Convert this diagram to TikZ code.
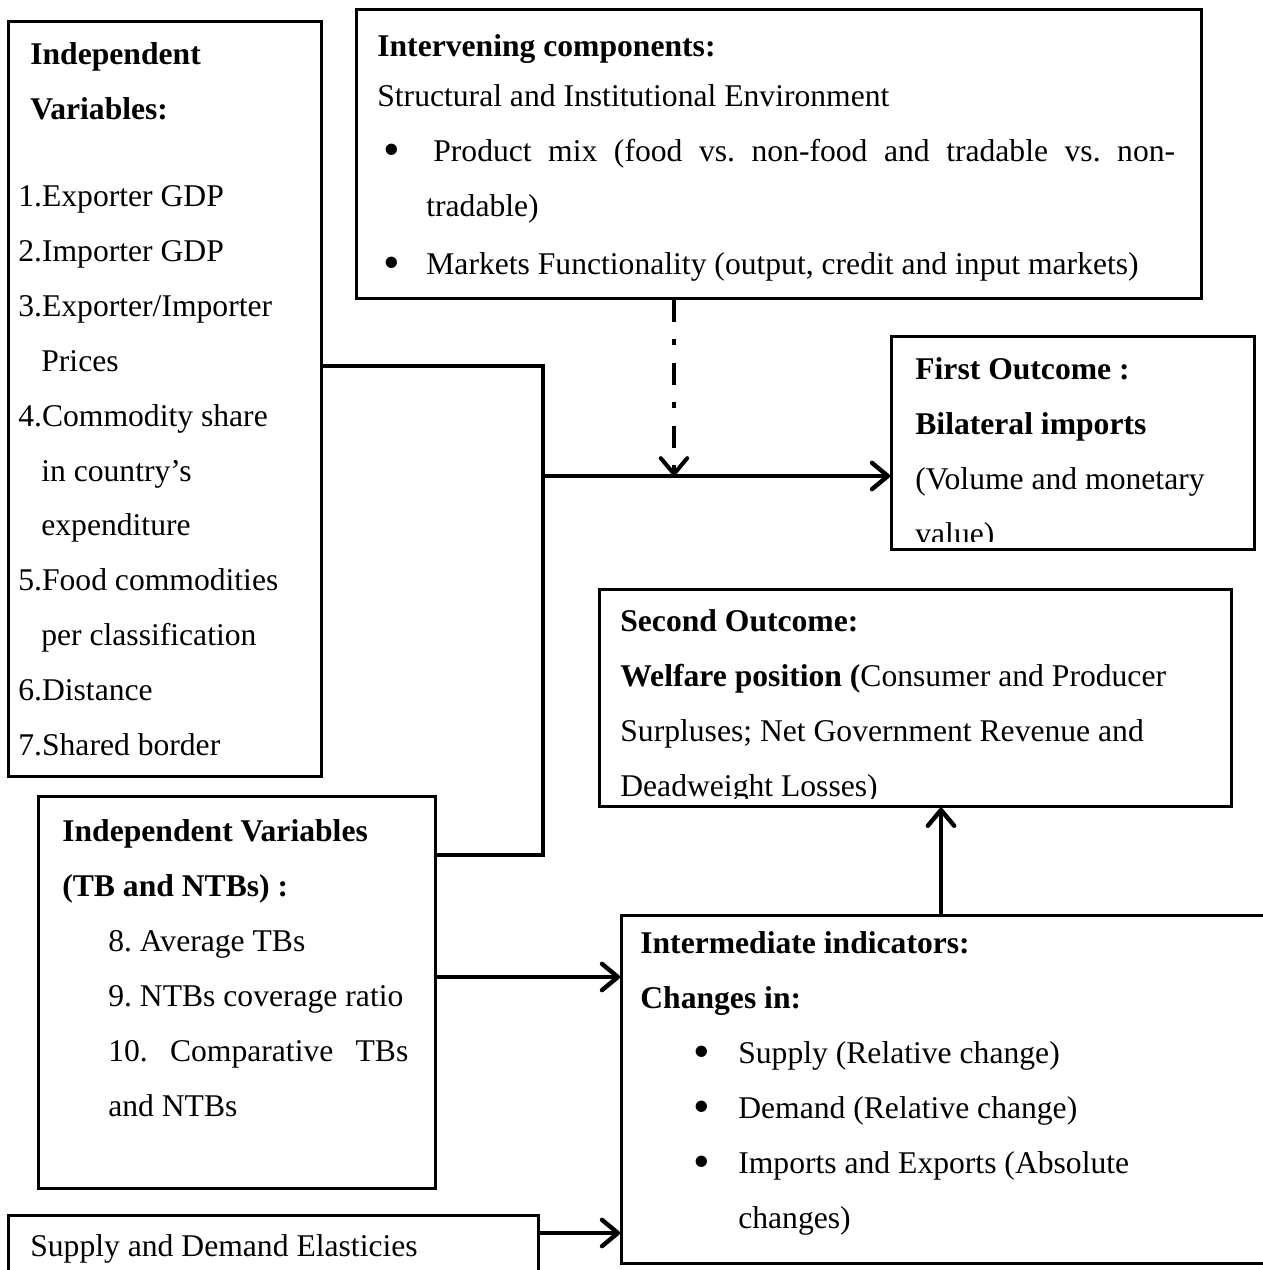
\documentclass[tikz,border=0pt]{standalone}
\usepackage{fontspec}
\usepackage{graphicx}
\setmainfont{Liberation Serif}
\usetikzlibrary{arrows.meta, positioning}
\newcommand{\bigdot}{\raisebox{-0.12em}{\scalebox{1.5}{\textbullet}}}
\frenchspacing

\begin{document}
\begin{tikzpicture}[
    x=0.02cm, y=-0.02cm,
    every node/.style={font=\fontsize{18}{31.3}\selectfont},
    box/.style={rectangle, draw, line width=1.6pt, anchor=north west, inner sep=0pt},
    txt/.style={anchor=north west, inner sep=0pt, align=left},
    link/.style={line width=2.5pt},
    arr/.style={-{Straight Barb[length=9pt, width=15pt, round]}},
    dotarr/.style={line width=2.3pt, dash pattern=on 12.5pt off 10pt on 3.4pt off 10pt,
      -{Straight Barb[length=9pt, width=15pt, round]}}
  ]
    \useasboundingbox (0,0) rectangle (1263,1270);

    % Boxes
    \node[box, minimum width=6.26cm, minimum height=15.1cm]  (indep)    at (7,20)     {};
    \node[box, minimum width=16.9cm, minimum height=5.78cm]  (interv)   at (355,8)    {};
    \node[box, minimum width=7.26cm, minimum height=4.26cm]  (first)    at (890,335)  {};
    \node[box, minimum width=12.64cm, minimum height=4.34cm] (second)   at (598,588)  {};
    \node[box, minimum width=7.94cm, minimum height=7.84cm]  (barriers) at (37,795)   {};
    \node[box, minimum width=13.4cm, minimum height=6.96cm]  (interm)   at (620,914)  {};
    \node[box, minimum width=10.6cm, minimum height=1.72cm]  (elast)    at (7,1214)   {};

    % Texts
    \node[txt] (indepTxt) at (18,25.4) {%
      \strut\hspace*{0.24cm}\textbf{Independent}\\
      \hspace*{0.24cm}\textbf{Variables:}\\[18.1pt]
      1.Exporter GDP\\
      2.Importer GDP\\
      3.Exporter/Importer\\
      \hspace*{0.46cm}Prices\\
      4.Commodity share\\
      \hspace*{0.46cm}in country's\\
      \hspace*{0.46cm}expenditure\\
      5.Food commodities\\
      \hspace*{0.46cm}per classification\\
      6.Distance\\
      7.Shared border};

    \node[txt] (intervTxt) at (377,17.4) {%
      \strut\textbf{Intervening components:}\\[-2.8pt]
      Structural and Institutional Environment\\
      \hspace*{0.12cm}\makebox[1.0cm][l]{\bigdot}\makebox[14.84cm][s]{Product mix (food vs. non-food and tradable vs. non-}\\
      \hspace*{0.98cm}tradable)\\[1.7pt]
      \hspace*{0.12cm}\makebox[0.86cm][l]{\bigdot}Markets Functionality (output, credit and input markets)};

    \begin{scope}
      \clip (first.north west) rectangle ([yshift=5pt]first.south east);
      \node[txt] (firstTxt) at (915,340.4) {%
        \strut\textbf{First Outcome :}\\
        \textbf{Bilateral imports}\\
        (Volume and monetary\\
        value)};
    \end{scope}

    \begin{scope}
      \clip (second.north west) rectangle ([yshift=5pt]second.south east);
      \node[txt] (secondTxt) at (620,592.4) {%
        \strut\textbf{Second Outcome:}\\
        \textbf{Welfare position (}Consumer and Producer\\
        Surpluses; Net Government Revenue and\\
        Deadweight Losses)};
    \end{scope}

    \node[txt] (barriersTxt) at (62,802.4) {%
      \strut\textbf{Independent Variables}\\
      \textbf{(TB and NTBs) :}\\
      \hspace*{0.92cm}8. Average TBs\\
      \hspace*{0.92cm}9. NTBs coverage ratio\\
      \hspace*{0.92cm}\makebox[6cm][s]{10. Comparative TBs}\\
      \hspace*{0.92cm}and NTBs};

    \node[txt] (intermTxt) at (640,914.4) {%
      \strut\textbf{Intermediate indicators:}\\
      \textbf{Changes in:}\\
      \hspace*{1.06cm}\makebox[0.9cm][l]{\bigdot}Supply (Relative change)\\
      \hspace*{1.06cm}\makebox[0.9cm][l]{\bigdot}Demand (Relative change)\\
      \hspace*{1.06cm}\makebox[0.9cm][l]{\bigdot}Imports and Exports (Absolute\\
      \hspace*{1.96cm}changes)};

    \node[txt] (elastTxt) at (30,1217.4) {\strut Supply and Demand Elasticies};

    % Connectors
    \coordinate (jTop)  at (543,366);
    \coordinate (jMid)  at (543,476);
    \coordinate (jLow)  at (543,855);
    \coordinate (jDrop) at (674,476);

    \draw[link] (indep.east |- jTop) -- (jTop) -- (jLow) -- (barriers.east |- jLow);
    \draw[link, arr] (jMid) -- (first.west |- jMid);
    \draw[dotarr] (interv.south -| jDrop) -- (jDrop);
    \draw[link, arr] (barriers.east |- 0,977) -- (interm.west |- 0,977);
    \draw[link, arr] (elast.east |- 0,1233) -- (interm.west |- 0,1233);
    \draw[link, arr] (interm.north -| 941,0) -- (second.south -| 941,0);

  \end{tikzpicture}
\end{document}
